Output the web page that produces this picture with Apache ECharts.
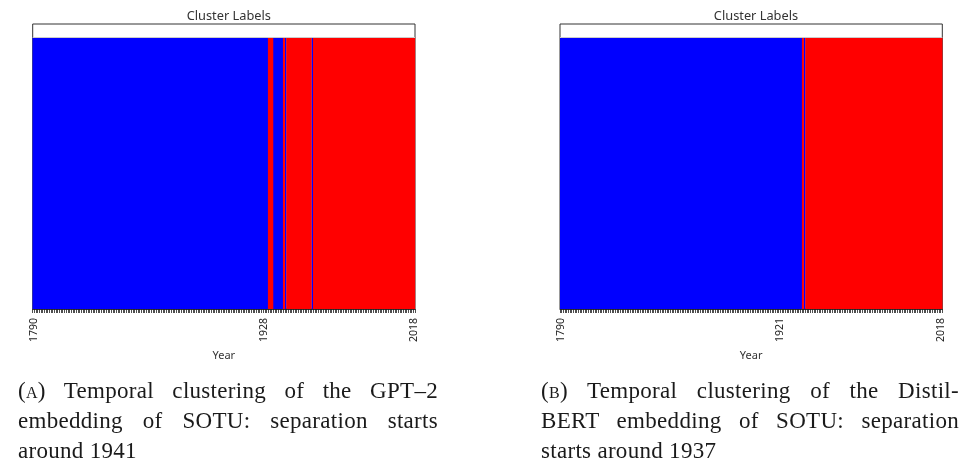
<!DOCTYPE html>
<html>
<head>
<meta charset="utf-8">
<script src="https://cdn.jsdelivr.net/npm/echarts@6/dist/echarts.min.js"></script>
<style>
  html, body { margin: 0; padding: 0; background: #fff; }
  #chart { position: absolute; left: 0; top: 0; width: 966px; height: 463px; }
  .cap { position: absolute; font-family: "Liberation Serif", "DejaVu Serif", serif; font-size: 23px; line-height: 30px; letter-spacing: 0.3px; color: #1a1a1a; }
  .cap .j { text-align: justify; text-align-last: justify; white-space: nowrap; }
  .sc { font-variant: small-caps; }
</style>
</head>
<body>
<div id="chart"></div>
<div class="cap" style="left:18px; top:376px; width:420px;">
  <div class="j"><span class="sc">(a)</span> Temporal clustering of the GPT–2</div>
  <div class="j">embedding of SOTU: separation starts</div>
  <div>around 1941</div>
</div>
<div class="cap" style="left:541px; top:376px; width:418px;">
  <div class="j"><span class="sc">(b)</span> Temporal clustering of the Distil-</div>
  <div class="j">BERT embedding of SOTU: separation</div>
  <div>starts around 1937</div>
</div>
<script>
// Categories: one per year
const years = [
  '1790','1791','1792','1793','1794','1795','1796','1797','1798','1799',
  '1800','1801','1802','1803','1804','1805','1806','1807','1808','1809',
  '1810','1811','1812','1813','1814','1815','1816','1817','1818','1819',
  '1820','1821','1822','1823','1824','1825','1826','1827','1828','1829',
  '1830','1831','1832','1833','1834','1835','1836','1837','1838','1839',
  '1840','1841','1842','1843','1844','1845','1846','1847','1848','1849',
  '1850','1851','1852','1853','1854','1855','1856','1857','1858','1859',
  '1860','1861','1862','1863','1864','1865','1866','1867','1868','1869',
  '1870','1871','1872','1873','1874','1875','1876','1877','1878','1879',
  '1880','1881','1882','1883','1884','1885','1886','1887','1888','1889',
  '1890','1891','1892','1893','1894','1895','1896','1897','1898','1899',
  '1900','1901','1902','1903','1904','1905','1906','1907','1908','1909',
  '1910','1911','1912','1913','1914','1915','1916','1917','1918','1919',
  '1920','1921','1922','1923','1924','1925','1926','1927','1928','1929',
  '1930','1931','1932','1933','1934','1935','1936','1937','1938','1939',
  '1940','1941','1942','1943','1944','1945','1946','1947','1948','1949',
  '1950','1951','1952','1953','1954','1955','1956','1957','1958','1959',
  '1960','1961','1962','1963','1964','1965','1966','1967','1968','1969',
  '1970','1971','1972','1973','1974','1975','1976','1977','1978','1979',
  '1980','1981','1982','1983','1984','1985','1986','1987','1988','1989',
  '1990','1991','1992','1993','1994','1995','1996','1997','1998','1999',
  '2000','2001','2002','2003','2004','2005','2006','2007','2008','2009',
  '2010','2011','2012','2013','2014','2015','2016','2017','2018'
];

// Cluster label per year (0 = blue cluster, 1 = red cluster) — GPT-2 embedding
const clustersGPT2 = [
  0,0,0,0,0,0,0,0,0,0, // 1790
  0,0,0,0,0,0,0,0,0,0, // 1800
  0,0,0,0,0,0,0,0,0,0, // 1810
  0,0,0,0,0,0,0,0,0,0, // 1820
  0,0,0,0,0,0,0,0,0,0, // 1830
  0,0,0,0,0,0,0,0,0,0, // 1840
  0,0,0,0,0,0,0,0,0,0, // 1850
  0,0,0,0,0,0,0,0,0,0, // 1860
  0,0,0,0,0,0,0,0,0,0, // 1870
  0,0,0,0,0,0,0,0,0,0, // 1880
  0,0,0,0,0,0,0,0,0,0, // 1890
  0,0,0,0,0,0,0,0,0,0, // 1900
  0,0,0,0,0,0,0,0,0,0, // 1910
  0,0,0,0,0,0,0,0,0,0, // 1920
  0,1,1,1,0,0,0,0,0,0, // 1930
  1,0,1,1,1,1,1,1,1,1, // 1940
  1,1,1,1,1,1,1,0,1,1, // 1950
  1,1,1,1,1,1,1,1,1,1, // 1960
  1,1,1,1,1,1,1,1,1,1, // 1970
  1,1,1,1,1,1,1,1,1,1, // 1980
  1,1,1,1,1,1,1,1,1,1, // 1990
  1,1,1,1,1,1,1,1,1,1, // 2000
  1,1,1,1,1,1,1,1,1    // 2010
];

// Cluster label per year — DistilBERT embedding
const clustersDistilBERT = [
  0,0,0,0,0,0,0,0,0,0, // 1790
  0,0,0,0,0,0,0,0,0,0, // 1800
  0,0,0,0,0,0,0,0,0,0, // 1810
  0,0,0,0,0,0,0,0,0,0, // 1820
  0,0,0,0,0,0,0,0,0,0, // 1830
  0,0,0,0,0,0,0,0,0,0, // 1840
  0,0,0,0,0,0,0,0,0,0, // 1850
  0,0,0,0,0,0,0,0,0,0, // 1860
  0,0,0,0,0,0,0,0,0,0, // 1870
  0,0,0,0,0,0,0,0,0,0, // 1880
  0,0,0,0,0,0,0,0,0,0, // 1890
  0,0,0,0,0,0,0,0,0,0, // 1900
  0,0,0,0,0,0,0,0,0,0, // 1910
  0,0,0,0,0,0,0,0,0,0, // 1920
  0,0,0,0,0,1,0,1,1,1, // 1930
  1,1,1,1,1,1,1,1,1,1, // 1940
  1,1,1,1,1,1,1,1,1,1, // 1950
  1,1,1,1,1,1,1,1,1,1, // 1960
  1,1,1,1,1,1,1,1,1,1, // 1970
  1,1,1,1,1,1,1,1,1,1, // 1980
  1,1,1,1,1,1,1,1,1,1, // 1990
  1,1,1,1,1,1,1,1,1,1, // 2000
  1,1,1,1,1,1,1,1,1    // 2010
];

// Tick labels shown on each x axis
const tickLabelsGPT2 = ['1790', '1928', '2018'];
const tickLabelsDistilBERT = ['1790', '1921', '2018'];

const panelTitle = 'Cluster Labels';
const axisName = 'Year';
const clusterColors = ['#0000ff', '#ff0000'];

const sansFont = '"Noto Sans", "Open Sans", sans-serif';

// membership of each year in cluster k: full-height bar (1) if member, else 0
function membership(clusters, k) {
  return clusters.map(c => (c === k ? 1 : 0));
}

function xAxisFor(gridIndex, labels) {
  return {
    type: 'category',
    gridIndex: gridIndex,
    data: years,
    boundaryGap: true,
    name: axisName,
    nameLocation: 'middle',
    nameGap: 33,
    nameTextStyle: { fontFamily: sansFont, fontSize: 11, color: '#333' },
    axisLine: { show: true, lineStyle: { color: '#333', width: 1 } },
    axisTick: { show: true, interval: 0, length: 4, lineStyle: { color: '#222', width: 0.8 } },
    axisLabel: {
      show: true,
      rotate: 90,
      margin: 9,
      interval: (idx, val) => labels.indexOf(val) !== -1,
      fontFamily: sansFont,
      fontSize: 10.5,
      color: '#222'
    },
    splitLine: { show: false }
  };
}

function yAxisFor(gridIndex) {
  return {
    type: 'value',
    gridIndex: gridIndex,
    min: 0,
    max: 1.05,
    show: false,
    splitLine: { show: false }
  };
}

function seriesFor(index, clusters, k) {
  const s = {
    type: 'bar',
    name: 'Cluster ' + k,
    xAxisIndex: index,
    yAxisIndex: index,
    data: membership(clusters, k),
    barWidth: '120%',
    barGap: '-100%',
    large: true,
    largeThreshold: 1,
    clip: true,
    itemStyle: { color: clusterColors[k] },
    silent: true,
    animation: false
  };
  if (k === 1) {
    s.markLine = {
      silent: true,
      symbol: 'none',
      label: { show: false },
      lineStyle: { color: '#cccccc', width: 1, type: 'solid' },
      data: [{ yAxis: 1.003 }]
    };
  }
  return s;
}

const chart = echarts.init(document.getElementById('chart'), null, { renderer: 'canvas' });
chart.setOption({
  animation: false,
  backgroundColor: '#ffffff',
  title: [
    { text: panelTitle, left: 223.8, top: 5, textAlign: 'center',
      textStyle: { fontFamily: sansFont, fontSize: 12.8, fontWeight: 'normal', color: '#333' } },
    { text: panelTitle, left: 751, top: 5, textAlign: 'center',
      textStyle: { fontFamily: sansFont, fontSize: 12.8, fontWeight: 'normal', color: '#333' } }
  ],
  grid: [
    { left: 32.7, top: 24, width: 382.3, height: 285, show: true, borderColor: '#333', borderWidth: 1, backgroundColor: 'transparent' },
    { left: 560, top: 24, width: 382.3, height: 285, show: true, borderColor: '#333', borderWidth: 1, backgroundColor: 'transparent' }
  ],
  xAxis: [xAxisFor(0, tickLabelsGPT2), xAxisFor(1, tickLabelsDistilBERT)],
  yAxis: [yAxisFor(0), yAxisFor(1)],
  series: [
    seriesFor(0, clustersGPT2, 0), seriesFor(0, clustersGPT2, 1),
    seriesFor(1, clustersDistilBERT, 0), seriesFor(1, clustersDistilBERT, 1)
  ]
});
</script>
</body>
</html>
